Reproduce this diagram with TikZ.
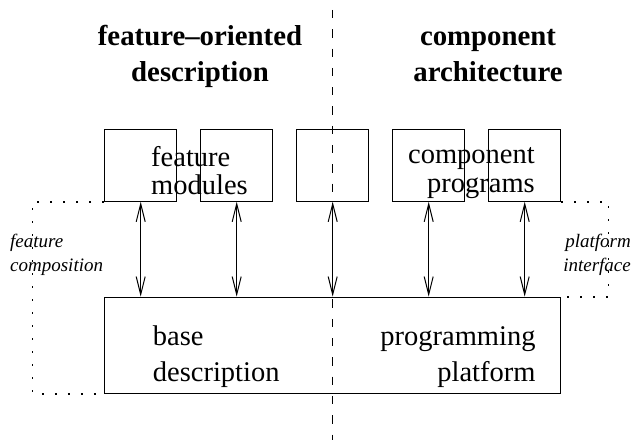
\documentclass[tikz,border=0pt]{standalone}
\usepackage{fontspec}
\setmainfont{Liberation Serif}
\usetikzlibrary{arrows.meta,positioning}

\begin{document}
\begin{tikzpicture}[
		x=1pt, y=1pt,
		node distance=22.9pt and 22.9pt,
		box/.style={draw, line width=1.1pt, minimum width=72pt, minimum height=72pt, inner sep=0pt},
		big/.style={inner sep=0pt, font={\fontsize{28.5}{#1}\selectfont}},
		big/.default=28,
		title/.style={inner sep=0pt, align=center, font={\bfseries\fontsize{28.8}{36}\selectfont}},
		note/.style={inner sep=0pt, font={\itshape\fontsize{19}{24}\selectfont}},
		arr/.style={{Straight Barb[length=18pt,width=9pt]}-{Straight Barb[length=18pt,width=9pt]}, line width=1pt},
		dots/.style={line width=1.8pt, dash pattern=on 1.8pt off 11.2pt}
		]
		\useasboundingbox (0,0) rectangle (632,442);
		
		% module boxes along the top
		\node[box] (fm1) at (140.7,276.8) {};
		\node[box, right=of fm1] (fm2) {};
		\node[box, right=of fm2] (mid) {};
		\node[box, right=of mid] (cp1) {};
		\node[box, right=of cp1] (cp2) {};
		
		% common base
		\node[box, minimum width=456pt, minimum height=96pt, below=94.9pt of mid] (base) {};
		
		% dividing line
		\coordinate (dtop) at (332.7,432);
		\coordinate (dbot) at (332.7,2);
		\draw[line width=1pt, dash pattern=on 8.3pt off 11pt] (dtop) -- (dbot);
		
		\foreach \b in {fm1,fm2,mid,cp1,cp2}
			\draw[arr] (\b.south) -- (\b.south |- base.north);
		
		% headings (base = last line)
		\node[title, anchor=base] (ftitle) at (200,360.3) {feature--oriented\\description};
		\node[title, anchor=base] (ctitle) at (488,360.3) {component\\architecture};
		
		% box texts
		\node[big, align=left, anchor=base west] (fmtext) at (151,247.7) {feature\\modules};
		\node[big=29, align=right, anchor=base east] (cptext) at (535,249.3) {component\\programs};
		\node[big=36.7, align=left, anchor=base west] (bdtext) at (152.7,60.3) {base\\description};
		\node[big=36.7, align=right, anchor=base east] (pptext) at (535.7,60.3) {programming\\platform};
		
		% side relations
		\draw[dots] (fm1.south west) -- ++(-71.7,0) |- (base.south west);
		\draw[dots] (cp2.south east) -- ++(47.3,0) |- (base.north east);
		\node[note, align=left, anchor=base west] (fcomp) at (10,170) {feature\\composition};
		\node[note, align=right, anchor=base east] (pint) at (631,170) {platform\\interface};
	\end{tikzpicture}
\end{document}
